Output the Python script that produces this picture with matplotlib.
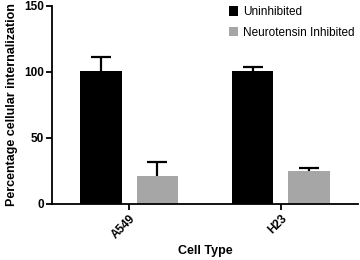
import matplotlib.pyplot as plt
import numpy as np

plt.rcParams['font.family'] = ['Liberation Sans', 'DejaVu Sans']
plt.rcParams['font.weight'] = 'bold'

# Data
cell_types = ['A549', 'H23']
uninhibited = [101, 101]
uninhibited_err = [10, 3]
inhibited = [21, 25]
inhibited_err = [11, 2]

x = np.arange(len(cell_types))
w = 0.275
off = 0.187

fig = plt.figure(figsize=(3.6, 2.6), dpi=100)
ax = fig.add_axes([52/360, 1 - 204/260, 306/360, 198/260])

b1 = ax.bar(x - off, uninhibited, w, color='black', label='Uninhibited')
b2 = ax.bar(x + off, inhibited, w, color='#a6a6a6', label='Neurotensin Inhibited')
for xs, ys, es in [(x - off, uninhibited, uninhibited_err), (x + off, inhibited, inhibited_err)]:
    _, caps, _ = ax.errorbar(xs, ys, yerr=[np.zeros(len(ys)), es], fmt='none',
                             ecolor='black', elinewidth=1.6, capsize=7, capthick=1.6)
    caps[0].set_visible(False)  # only the upper cap

ax.set_xlim(-0.507, 1.507)
ax.set_ylim(0, 150)
ax.set_yticks([0, 50, 100, 150])
ax.set_xticks(x)
ax.set_xticklabels(cell_types, rotation=45, ha='right', rotation_mode='anchor')
ax.tick_params(axis='both', labelsize=8.5, width=1.3, length=4, pad=2)
for lab in ax.get_xticklabels() + ax.get_yticklabels():
    lab.set_fontweight('bold')
for s in ['top', 'right']:
    ax.spines[s].set_visible(False)
for s in ['left', 'bottom']:
    ax.spines[s].set_linewidth(1.3)

ax.set_ylabel('Percentage cellular internalization', fontsize=9, fontweight='bold', labelpad=4)
ax.set_xlabel('Cell Type', fontsize=9, fontweight='bold', labelpad=3)

fig.legend(handles=[b1, b2], loc='upper left', bbox_to_anchor=(224/360, 1 - 1/260),
           frameon=False, handlelength=0.8, handleheight=0.9,
           handletextpad=0.4, labelspacing=0.75, borderaxespad=0,
           prop={'weight': 'normal', 'size': 8.5})

fig.savefig('out.png', dpi=100)
